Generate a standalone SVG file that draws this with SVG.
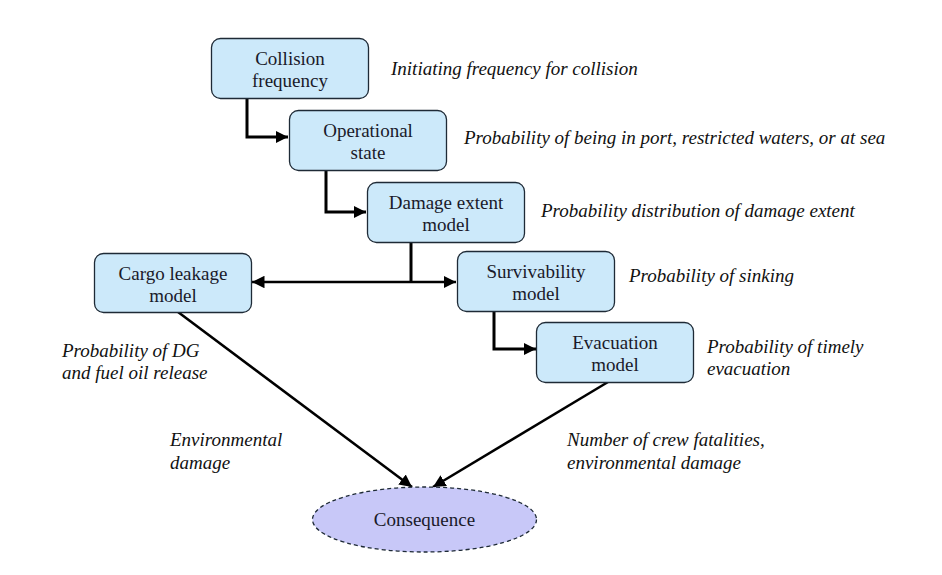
<svg xmlns="http://www.w3.org/2000/svg" width="942" height="575" viewBox="0 0 942 575">
<defs>
<marker id="ah" viewBox="0 0 10 10" refX="10" refY="5" markerWidth="4" markerHeight="4" orient="auto-start-reverse" markerUnits="strokeWidth">
<path d="M0,0 L10,5 L0,10 z" fill="#000"/>
</marker>
<marker id="ah2" viewBox="0 0 10 10" refX="10" refY="5" markerWidth="5" markerHeight="5" orient="auto-start-reverse" markerUnits="strokeWidth">
<path d="M0,0 L10,5 L0,10 z" fill="#000"/>
</marker>
</defs>
<rect width="942" height="575" fill="#fff"/>
<g id="connectors" fill="none" stroke="#000">
<path stroke-width="3" d="M247,98 V137 H288" marker-end="url(#ah)"/>
<path stroke-width="3" d="M326,170 V212 H366" marker-end="url(#ah)"/>
<path stroke-width="3" d="M411,242 V282"/>
<path stroke-width="2.5" d="M252,282 H456" marker-start="url(#ah2)" marker-end="url(#ah2)"/>
<path stroke-width="3" d="M494,311 V349 H536" marker-end="url(#ah)"/>
<path stroke-width="2.5" d="M178,312 L412,487" marker-end="url(#ah2)"/>
<path stroke-width="2.5" d="M608,382 L433,487" marker-end="url(#ah2)"/>
</g>
<g id="nodes">
<g fill="#cce9fa" stroke="#1e2a36" stroke-width="1.3">
<rect id="collision-box" x="211.5" y="38.5" width="157" height="60" rx="9"/>
<rect id="operational-box" x="289.5" y="110.5" width="157" height="60" rx="9"/>
<rect id="damage-box" x="367.5" y="182.5" width="157" height="60" rx="9"/>
<rect id="cargo-box" x="94.5" y="253.5" width="157" height="59" rx="9"/>
<rect id="survivability-box" x="457.5" y="251.5" width="157" height="60" rx="9"/>
<rect id="evacuation-box" x="536.5" y="322.5" width="157" height="60" rx="9"/>
</g>
<ellipse id="consequence-shape" cx="424.5" cy="519.5" rx="112" ry="32.5" fill="#c8c8f8" stroke="#1e2a36" stroke-width="1.3" stroke-dasharray="4,3"/>
<g fill="#1a1a2a" text-anchor="middle">
<text font-family="Liberation Serif" font-size="19" x="290" y="65">Collision</text>
<text font-family="Liberation Serif" font-size="19" x="290" y="87">frequency</text>
<text font-family="Liberation Serif" font-size="19" x="368" y="137">Operational</text>
<text font-family="Liberation Serif" font-size="19" x="368" y="159">state</text>
<text font-family="Liberation Serif" font-size="19" x="446" y="209">Damage extent</text>
<text font-family="Liberation Serif" font-size="19" x="446" y="231">model</text>
<text font-family="Liberation Serif" font-size="19" x="173" y="280">Cargo leakage</text>
<text font-family="Liberation Serif" font-size="19" x="173" y="302">model</text>
<text font-family="Liberation Serif" font-size="19" x="536" y="278">Survivability</text>
<text font-family="Liberation Serif" font-size="19" x="536" y="300">model</text>
<text font-family="Liberation Serif" font-size="19" x="615" y="349">Evacuation</text>
<text font-family="Liberation Serif" font-size="19" x="615" y="371">model</text>
<text font-family="Liberation Serif" font-size="19" x="424.5" y="526">Consequence</text>
</g>
</g>
<g id="labels" fill="#111">
<text font-family="Liberation Serif" font-size="19" font-style="italic" x="391" y="75">Initiating frequency for collision</text>
<text font-family="Liberation Serif" font-size="19" font-style="italic" x="464" y="144">Probability of being in port, restricted waters, or at sea</text>
<text font-family="Liberation Serif" font-size="19" font-style="italic" x="541" y="217">Probability distribution of damage extent</text>
<text font-family="Liberation Serif" font-size="19" font-style="italic" x="629" y="282">Probability of sinking</text>
<text font-family="Liberation Serif" font-size="19" font-style="italic" x="707" y="353">Probability of timely</text>
<text font-family="Liberation Serif" font-size="19" font-style="italic" x="707" y="375">evacuation</text>
<text font-family="Liberation Serif" font-size="19" font-style="italic" x="62" y="357">Probability of DG</text>
<text font-family="Liberation Serif" font-size="19" font-style="italic" x="62" y="379">and fuel oil release</text>
<text font-family="Liberation Serif" font-size="19" font-style="italic" x="170" y="446">Environmental</text>
<text font-family="Liberation Serif" font-size="19" font-style="italic" x="170" y="469">damage</text>
<text font-family="Liberation Serif" font-size="19" font-style="italic" x="567" y="446">Number of crew fatalities,</text>
<text font-family="Liberation Serif" font-size="19" font-style="italic" x="567" y="469">environmental damage</text>
</g>
</svg>
